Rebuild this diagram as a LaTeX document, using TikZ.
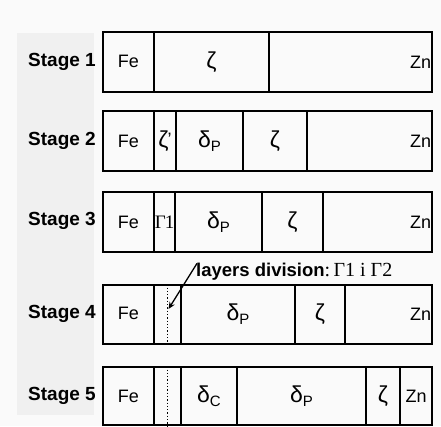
\documentclass[tikz,border=0pt]{standalone}
\usepackage{fontspec}
\setmainfont{Liberation Sans}
\newfontfamily\serifgr{Liberation Serif}
\usetikzlibrary{arrows.meta}
\definecolor{bgc}{HTML}{FAFAFA}
\definecolor{panelc}{HTML}{F0F0F0}
\newcommand\cellbox[6]{\node[cell, minimum width={#3-#2}, minimum height={#5-#4}] (#1) at ({(#2+#3)/2},{(#4+#5)/2}) {#6};}
\newcommand\grk[1]{{\fontsize{23}{23}\selectfont #1}}
\newcommand\dsub[1]{\grk{δ}\raisebox{-4pt}{\fontsize{15}{15}\selectfont #1}}
\begin{document}
\begin{tikzpicture}[x=1pt,y=-1pt,
  cell/.style={draw, line width=1.6pt, inner sep=0pt, font=\fontsize{18}{18}\selectfont},
  stagelbl/.style={anchor=east, inner sep=0pt, font=\fontsize{19}{19}\selectfont\bfseries},
  znlbl/.style={anchor=east, inner sep=0pt, font=\fontsize{18}{18}\selectfont},
  dotln/.style={dotted, line width=1.3pt},
  note/.style={anchor=base west, inner sep=0pt, font=\fontsize{18.5}{18.5}\selectfont\bfseries}]
\useasboundingbox (0,0) rectangle (441,426);
\fill[bgc] (0,0) rectangle (441,426);
\fill[panelc] (17,33) rectangle (94,415);
% Stage 1
\node[stagelbl] (st1) at (96,62) {Stage 1};
\cellbox{s1a}{103}{154}{32}{92}{\raisebox{2pt}{Fe}}
\cellbox{s1b}{154}{269}{32}{92}{\raisebox{-3pt}{\grk{ζ}}}
\cellbox{s1c}{269}{432}{32}{92}{}
\node[znlbl] (s1zn) at ([xshift=-1.5pt]s1c.east) {Zn};
% Stage 2
\node[stagelbl] (st2) at (96,141) {Stage 2};
\cellbox{s2a}{103}{154}{111}{171}{Fe}
\cellbox{s2b}{154}{176}{111}{171}{\grk{ζ}\kern-1pt\raisebox{2pt}{'}}
\cellbox{s2c}{176}{243}{111}{171}{\dsub{P}}
\cellbox{s2d}{243}{307}{111}{171}{\grk{ζ}}
\cellbox{s2e}{307}{432}{111}{171}{}
\node[znlbl] (s2zn) at ([xshift=-1.5pt]s2e.east) {Zn};
% Stage 3
\node[stagelbl] (st3) at (96,221) {Stage 3};
\cellbox{s3a}{103}{154}{192}{252}{Fe}
\cellbox{s3b}{154}{175}{192}{252}{\serifgr\fontsize{19}{19}\selectfont Γ\kern-1pt1}
\cellbox{s3c}{175}{262}{192}{252}{\dsub{P}}
\cellbox{s3d}{262}{323}{192}{252}{\grk{ζ}}
\cellbox{s3e}{323}{432}{192}{252}{}
\node[znlbl] (s3zn) at ([xshift=-1.5pt]s3e.east) {Zn};
% note
\node[note] (lay) at (196,276) {layers division{\mdseries\serifgr\fontsize{20}{20}\selectfont :\,Γ1 i Γ2}};
% Stage 4
\node[stagelbl] (st4) at (96,314) {Stage 4};
\cellbox{s4a}{103}{154}{285}{344}{\raisebox{2pt}{Fe}}
\cellbox{s4b}{154}{181}{285}{344}{}
\cellbox{s4c}{181}{295}{285}{344}{\raisebox{-3pt}{\dsub{P}}}
\cellbox{s4d}{295}{345}{285}{344}{\grk{ζ}}
\cellbox{s4e}{345}{432}{285}{344}{}
\node[znlbl] (s4zn) at ([xshift=-1.5pt]s4e.east) {Zn};
\draw[dotln] (s4b.north) -- (s4b.south);
\coordinate (tip) at (168.5,309);
\draw[line width=1.3pt, -{Stealth[length=7pt,width=6pt]}] ([xshift=1pt,yshift=-1pt]lay.north west) -- (tip);
% Stage 5
\node[stagelbl] (st5) at (96,396) {Stage 5};
\cellbox{s5a}{103}{154}{367}{425}{Fe}
\cellbox{s5b}{154}{181}{367}{425}{}
\cellbox{s5c}{181}{237}{367}{425}{\dsub{C}}
\cellbox{s5d}{237}{366}{367}{425}{\dsub{P}}
\cellbox{s5e}{366}{400}{367}{425}{\grk{ζ}}
\cellbox{s5f}{400}{432}{367}{425}{Zn}
\draw[dotln] (s5b.north) -- (s5b.south);
\end{tikzpicture}
\end{document}
